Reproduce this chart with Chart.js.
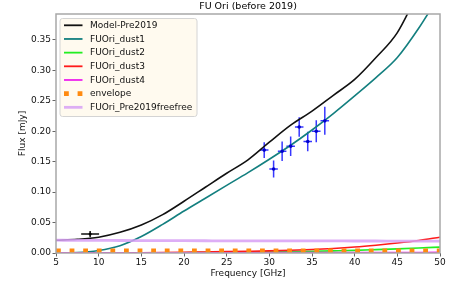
<!DOCTYPE html>
<html><head><meta charset="utf-8">
<script src="https://cdn.jsdelivr.net/npm/chart.js@4"></script>
<style>html,body{margin:0;padding:0;background:#fff}#wrap{width:468px;height:281px}</style>
</head><body><div id="wrap"><canvas id="c" width="468" height="281"></canvas></div>
<script>
const freq         = [5, 7.5, 10, 12.5, 15, 17.5, 20, 22.5, 25, 27.5, 30, 32.5, 35, 37.5, 40, 42.5, 45, 47.5, 50];
const modelPre2019 = [0.021, 0.0225, 0.026, 0.034, 0.046, 0.063, 0.085, 0.108, 0.131, 0.153, 0.182, 0.210, 0.233, 0.259, 0.285, 0.321, 0.362, 0.43, 0.50];
const dust1        = [0.0, 0.0006, 0.004, 0.012, 0.027, 0.047, 0.069, 0.090, 0.111, 0.132, 0.154, 0.177, 0.202, 0.229, 0.258, 0.288, 0.321, 0.369, 0.425];
const dust2        = [0, 0, 0, 0, 0.0002, 0.0003, 0.0005, 0.0007, 0.001, 0.0013, 0.0017, 0.0022, 0.0028, 0.0035, 0.0043, 0.0055, 0.0068, 0.0082, 0.0097];
const dust3        = [0, 0, 0.0001, 0.0003, 0.0005, 0.0008, 0.0012, 0.0017, 0.0022, 0.0028, 0.0035, 0.0045, 0.0058, 0.0075, 0.0098, 0.0128, 0.0163, 0.0205, 0.026];
const dust4        = [0.0003, 0.0003, 0.0003, 0.0003, 0.0003, 0.0004, 0.0004, 0.0004, 0.0005, 0.0005, 0.0005, 0.0006, 0.0006, 0.0007, 0.0007, 0.0008, 0.0008, 0.0009, 0.001];
const envelope     = [0.0035, 0.0035, 0.0035, 0.0035, 0.0035, 0.0035, 0.0035, 0.0035, 0.0035, 0.0035, 0.0035, 0.0035, 0.0035, 0.0035, 0.0035, 0.0035, 0.0035, 0.0035, 0.0035];
const freefree     = [0.021, 0.0208, 0.0207, 0.0205, 0.0204, 0.0203, 0.0202, 0.0201, 0.0200, 0.0200, 0.0199, 0.0199, 0.0198, 0.0198, 0.0197, 0.0197, 0.0196, 0.0196, 0.0195];

const obsFreq    = [29.4, 30.5, 31.5, 32.5, 33.5, 34.5, 35.5, 36.5];
const obsFlux    = [0.169, 0.138, 0.167, 0.1755, 0.207, 0.183, 0.200, 0.217];
const obsFluxErr = [0.013, 0.014, 0.016, 0.016, 0.016, 0.016, 0.018, 0.023];
const obsFreqErr = [0.5, 0.5, 0.5, 0.5, 0.5, 0.5, 0.5, 0.5];

const lowFreq    = [9.0];
const lowFlux    = [0.031];
const lowFluxErr = [0.005];
const lowFreqErr = [1.05];

const xTicks = [5, 10, 15, 20, 25, 30, 35, 40, 45, 50];
const yTicks = [0, 0.05, 0.10, 0.15, 0.20, 0.25, 0.30, 0.35];

const FONT = 'DejaVu Sans';
const pts = arr => freq.map((f, i) => ({x: f, y: arr[i]}));

const series = [
  {label: 'Model-Pre2019', data: modelPre2019, color: '#111111', width: 1.6, order: 7},
  {label: 'FUOri_dust1', data: dust1, color: '#137f7f', width: 1.6, order: 6},
  {label: 'FUOri_dust2', data: dust2, color: '#22ee22', width: 1.6, order: 5},
  {label: 'FUOri_dust3', data: dust3, color: '#ff1a1a', width: 1.6, order: 4},
  {label: 'FUOri_dust4', data: dust4, color: '#ee22ee', width: 1.6, order: 3},
  {label: 'envelope', data: envelope, color: '#ff8a10', width: 4.8, dash: [4.8, 8.8], order: 2},
  {label: 'FUOri_Pre2019freefree', data: freefree, color: 'rgba(215,160,245,0.85)', width: 2.8, order: 1}
];

const datasets = series.map(s => ({
  label: s.label, data: pts(s.data), borderColor: s.color, backgroundColor: s.color,
  borderWidth: s.width, borderDash: s.dash || [], borderCapStyle: 'butt',
  pointRadius: 0, showLine: true, cubicInterpolationMode: 'monotone', order: s.order
}));
datasets.push({
  label: 'obs', data: obsFreq.map((f, i) => ({x: f, y: obsFlux[i]})),
  showLine: false, pointRadius: 1.8, backgroundColor: '#0000cc', borderColor: '#0000cc', borderWidth: 0, order: -2,
  xErr: obsFreqErr, yErr: obsFluxErr, errColor: 'rgba(20,20,255,0.85)'
});
datasets.push({
  label: 'low', data: lowFreq.map((f, i) => ({x: f, y: lowFlux[i]})),
  showLine: false, pointRadius: 1.5, backgroundColor: '#000', borderColor: '#000', borderWidth: 0, order: -1,
  xErr: lowFreqErr, yErr: lowFluxErr, errColor: '#111'
});

const deco = {
  id: 'deco',
  beforeDatasetsDraw(chart) {
    const {ctx} = chart; const xs = chart.scales.x, ys = chart.scales.y;
    ctx.save();
    chart.data.datasets.forEach(ds => {
      if (!ds.xErr) return;
      ctx.strokeStyle = ds.errColor; ctx.lineWidth = 1.5;
      ds.data.forEach((p, i) => {
        const cx = xs.getPixelForValue(p.x), cy = ys.getPixelForValue(p.y);
        ctx.beginPath();
        ctx.moveTo(xs.getPixelForValue(p.x - ds.xErr[i]), cy);
        ctx.lineTo(xs.getPixelForValue(p.x + ds.xErr[i]), cy);
        ctx.moveTo(cx, ys.getPixelForValue(p.y - ds.yErr[i]));
        ctx.lineTo(cx, ys.getPixelForValue(p.y + ds.yErr[i]));
        ctx.stroke();
      });
    });
    ctx.restore();
  },
  afterDraw(chart) {
    const {ctx, chartArea: a} = chart;
    ctx.save();
    ctx.strokeStyle = '#a8a8a8'; ctx.lineWidth = 1.5;
    ctx.strokeRect(a.left, a.top, a.right - a.left, a.bottom - a.top);
    ctx.fillStyle = '#000'; ctx.font = '9.5px "' + FONT + '"';
    ctx.textAlign = 'center'; ctx.textBaseline = 'middle';
    ctx.fillText('FU Ori (before 2019)', (a.left + a.right) / 2, 7);
    const lx = 60, ly = 18.5, lw = 137, lh = 98;
    ctx.fillStyle = 'rgba(255,250,238,0.92)'; ctx.strokeStyle = '#d4d4d4'; ctx.lineWidth = 1;
    ctx.beginPath();
    if (ctx.roundRect) ctx.roundRect(lx, ly, lw, lh, 2.5); else ctx.rect(lx, ly, lw, lh);
    ctx.fill(); ctx.stroke();
    ctx.font = '9px "' + FONT + '"'; ctx.textAlign = 'left'; ctx.textBaseline = 'middle';
    series.forEach((s, i) => {
      const y = 25.3 + i * 13.67;
      ctx.strokeStyle = s.color; ctx.lineWidth = s.dash ? 4.8 : (s.width > 2 ? 2.8 : 1.8);
      ctx.setLineDash(s.dash || []); ctx.lineCap = 'butt';
      ctx.beginPath(); ctx.moveTo(64, y); ctx.lineTo(s.dash ? 83 : 82.5, y); ctx.stroke();
      ctx.setLineDash([]);
      ctx.fillStyle = '#111';
      ctx.fillText(s.label, 90, y + 0.5);
    });
    ctx.restore();
  }
};

new Chart(document.getElementById('c'), {
  type: 'scatter',
  data: {datasets},
  options: {
    responsive: false, animation: false, devicePixelRatio: 1,
    layout: {padding: {top: 14, right: 28, left: 0, bottom: 0}},
    plugins: {legend: {display: false}, tooltip: {enabled: false}, title: {display: false}},
    scales: {
      x: {
        type: 'linear', min: 5, max: 50,
        afterFit: s => { s.height = 28; },
        afterBuildTicks: s => { s.ticks = xTicks.map(v => ({value: v})); },
        grid: {display: true, drawOnChartArea: false, drawTicks: true, tickLength: 3.5, color: '#666', lineWidth: 1},
        border: {display: false},
        ticks: {font: {family: FONT, size: 9}, color: '#111', padding: 1, maxRotation: 0,
                 callback: v => String(v)},
        title: {display: true, text: 'Frequency [GHz]', font: {family: FONT, size: 9}, color: '#111', padding: {top: 0, bottom: 2}}
      },
      y: {
        type: 'linear', min: 0, max: 0.3925,
        afterFit: s => { s.width = 56; },
        afterBuildTicks: s => { s.ticks = yTicks.map(v => ({value: v})); },
        grid: {display: true, drawOnChartArea: false, drawTicks: true, tickLength: 3.5, color: '#666', lineWidth: 1},
        border: {display: false},
        ticks: {font: {family: FONT, size: 9}, color: '#111', padding: 1.5,
                callback: v => v.toFixed(2)},
        title: {display: true, text: 'Flux [mJy]', font: {family: FONT, size: 9}, color: '#111', padding: {top: 17, bottom: 0}}
      }
    }
  },
  plugins: [deco]
});
</script>
</body></html>
